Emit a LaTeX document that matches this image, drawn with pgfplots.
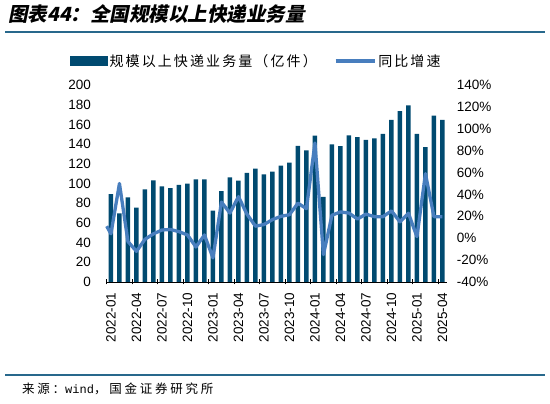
\documentclass[border=0pt]{standalone}
\usepackage{pgfplots}
\pgfplotsset{compat=1.18}
\usepackage{pgfplotstable}
\usepackage{fontspec}
\setmainfont{Liberation Sans}
\newfontfamily\cjk{Noto Sans CJK SC}
\newfontfamily\cjksp{Noto Sans CJK SC}[LetterSpace=15]
\newfontfamily\cjksrc{Noto Sans CJK SC}[LetterSpace=22]
\newfontfamily\cjktitle{Noto Sans CJK SC}[FakeSlant=0.2]
\newfontfamily\monof{Liberation Mono}
\definecolor{barc}{RGB}{0,74,112}
\definecolor{linec}{RGB}{72,126,190}
\definecolor{rulec}{RGB}{40,104,140}

\pgfplotstableread{
i v
0 89.3
1 69.7
2 86
3 75.5
4 94.1
5 103.2
6 97.1
7 95.4
8 98.5
9 99.8
10 104.2
11 104.2
12 72.4
13 92.2
14 106.3
15 102.9
16 110.7
17 115
18 109.3
19 112
20 118.1
21 121.1
22 138.1
23 133.6
24 148.5
25 86.3
26 139.6
27 137.9
28 148.9
29 147.2
30 144.2
31 145.9
32 150.3
33 164.5
34 173.6
35 179.4
36 150.3
37 136.8
38 168.8
39 164.5
}\bars

\pgfplotstableread{
i g
-0.5 11
0 4
1 50
2 -3
3 -12
4 -1
5 4
6 7.5
7 8
8 6
9 3
10 -8
11 3
12 -18
13 33
14 23
15 38
16 22
17 11
18 12.5
19 17
20 20
21 21.5
22 32
23 27
24 87
25 -15
26 21
27 24
28 23
29 17.5
30 22
31 19.7
32 19.7
33 25
34 15
35 22.8
36 1.4
37 59
38 19.7
39 19.7
}\growth

\begin{document}
\begin{tikzpicture}
\path[use as bounding box] (0pt,0pt) rectangle (550pt,404pt);
\node[anchor=base west, inner sep=0pt] at (8pt,382pt) {\cjktitle\bfseries\fontsize{19.5}{21}\selectfont 图表44：全国规模以上快递业务量};
\draw[rulec, line width=1.3pt] (5pt,372pt) -- (545pt,372pt);
\draw[rulec, line width=1.3pt] (5pt,29pt) -- (545pt,29pt);
\node[anchor=west, inner sep=0pt] at (22pt,15pt) {\cjksrc\fontsize{12.5}{14}\selectfont 来源：{\monof\fontsize{12}{14}\selectfont wind}，国金证券研究所};

\begin{axis}[
  at={(106.7pt,122pt)}, anchor=south west,
  scale only axis, width=340pt, height=197pt,
  xmin=-0.5, xmax=39.5, ymin=0, ymax=200,
  axis x line*=bottom, axis y line*=left,
  y axis line style={draw=none},
  x axis line style={black, line width=0.8pt, -},
  ytick={0,20,...,200}, ytick style={draw=none},
  xtick={-0.5,2.5,...,38.5},
  xticklabels={2022-01,2022-04,2022-07,2022-10,2023-01,2023-04,2023-07,2023-10,2024-01,2024-04,2024-07,2024-10,2025-01,2025-04},
  xtick style={black, line width=0.8pt},
  tick align=center, major tick length=5pt,
  /pgf/number format/assume math mode=true,
  tick label style={font=\fontsize{13.5}{15}\selectfont},
  yticklabel style={inner sep=0pt, xshift=-13pt},
  xticklabel style={inner sep=0pt, xshift=4.25pt, yshift=-8pt, rotate=90, anchor=east},
]
\addplot[ybar, bar width=4.4pt, fill=barc, draw=none] table[x=i, y=v] {\bars};
\end{axis}

\begin{axis}[
  at={(106.7pt,122pt)}, anchor=south west,
  scale only axis, width=340pt, height=197pt,
  xmin=-0.5, xmax=39.5, ymin=-40, ymax=140,
  axis y line*=right, axis x line=none,
  y axis line style={draw=none},
  ytick={-40,-20,...,140}, ytick style={draw=none},
  yticklabel={\pgfmathprintnumber{\tick}\%},
  /pgf/number format/assume math mode=true,
  tick label style={font=\fontsize{13.5}{15}\selectfont},
  yticklabel style={inner sep=0pt, xshift=10pt, anchor=west},
  clip=false,
  legend style={at={(-0.108,1.122)}, anchor=west, draw=none, fill=none, inner sep=0pt,
    font=\cjksp\fontsize{14}{16}\selectfont,
    /tikz/every even column/.append style={column sep=15pt}},
  legend columns=2,
]
\addlegendimage{legend image code/.code={\fill[barc] (0pt,-4.5pt) rectangle (37pt,4.5pt);}}
\addlegendentry{规模以上快递业务量（亿件）}
\addplot[linec, line width=3.3pt, line join=round,
  legend image code/.code={\draw[linec, line width=3.5pt] (0pt,0pt) -- (39pt,0pt);}] table[x=i, y=g] {\growth};
\addlegendentry{同比增速}
\end{axis}
\end{tikzpicture}
\end{document}
